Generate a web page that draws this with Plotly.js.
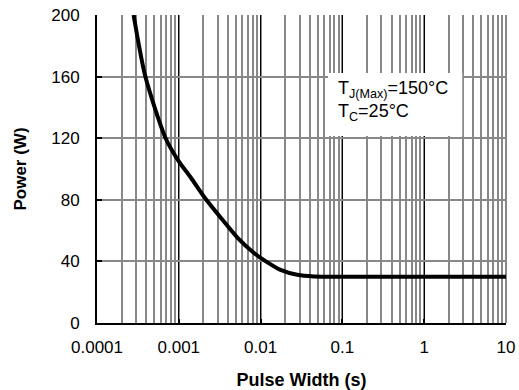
<!DOCTYPE html>
<html>
<head>
<meta charset="utf-8">
<script src="https://cdn.plot.ly/plotly-3.0.1.min.js"></script>
<style>html,body{margin:0;padding:0;background:#fff;}#chart{width:519px;height:390px;}</style>
</head>
<body>
<div id="chart"></div>
<script>
// Pulse width (s) and power (W)
const pulseWidth = [0.00028, 0.00039, 0.00069, 0.001, 0.0014, 0.0021, 0.0033, 0.0052, 0.0083, 0.012, 0.0175, 0.028, 0.045, 0.1, 1, 10];
const power      = [200,     160,     120,     105,   94.5,   81,     68,     55.5,   45.5,   39.5,  34.5,   31.3,  30.2,  30,  30, 30];
const xTickVals  = [0.0001, 0.001, 0.01, 0.1, 1, 10];
const xTickText  = ["0.0001", "0.001", "0.01", "0.1", "1", "10"];
const yTickVals  = [0, 40, 80, 120, 160, 200];
const xTitle = "Pulse Width (s)";
const yTitle = "Power (W)";
const note = "T<sub>J(Max)</sub>=150°C<br>T<sub>C</sub>=25°C";

const font = "Liberation Sans, Arial, sans-serif";
const trace = {
  x: pulseWidth, y: power, type: "scatter", mode: "lines",
  line: {color: "#000", width: 4, shape: "spline", smoothing: 0.7},
  hoverinfo: "skip"
};
const layout = {
  width: 519, height: 390,
  margin: {l: 97, r: 13, t: 15, b: 67},
  paper_bgcolor: "#fff", plot_bgcolor: "#fff",
  showlegend: false,
  font: {family: font, size: 17, color: "#000"},
  xaxis: {
    type: "log", range: [-4, 1],
    tickvals: xTickVals, ticktext: xTickText,
    ticks: "inside", ticklen: 4, tickwidth: 2, tickcolor: "#000",
    showgrid: true, gridcolor: "#000", gridwidth: 1,
    minor: {dtick: "D1", showgrid: true, gridcolor: "#888", gridwidth: 2, ticks: ""},
    showline: true, linecolor: "#000", linewidth: 2,
    zeroline: false, automargin: false,
    ticklabelstandoff: 8,
    title: {text: "<b>" + xTitle + "</b>", font: {family: font, size: 18}, standoff: 29}
  },
  yaxis: {
    range: [0, 200], tickvals: yTickVals,
    ticks: "inside", ticklen: 5, tickwidth: 2, tickcolor: "#000",
    showgrid: true, gridcolor: "#888", gridwidth: 2,
    showline: true, linecolor: "#000", linewidth: 2,
    zeroline: false, automargin: false,
    ticklabelstandoff: 12,
    title: {text: "<b>" + yTitle + "</b>", font: {family: font, size: 17}, standoff: 20}
  },
  shapes: [
    {type: "line", xref: "paper", yref: "paper", x0: 1, x1: 1, y0: 0, y1: 1, line: {color: "#888", width: 2}, layer: "below"},
    {type: "rect", xref: "paper", yref: "paper", x0: 0.565, x1: 0.893, y0: 0.607, y1: 0.812, fillcolor: "#fff", line: {width: 0}, layer: "above"}
  ],
  annotations: [{
    xref: "paper", yref: "paper", x: 0.585, y: 0.72, xanchor: "left", yanchor: "middle",
    text: note, showarrow: false, align: "left",
    font: {family: font, size: 18, color: "#000"}
  }]
};
Plotly.newPlot("chart", [trace], layout, {staticPlot: true, displayModeBar: false});
</script>
</body>
</html>
